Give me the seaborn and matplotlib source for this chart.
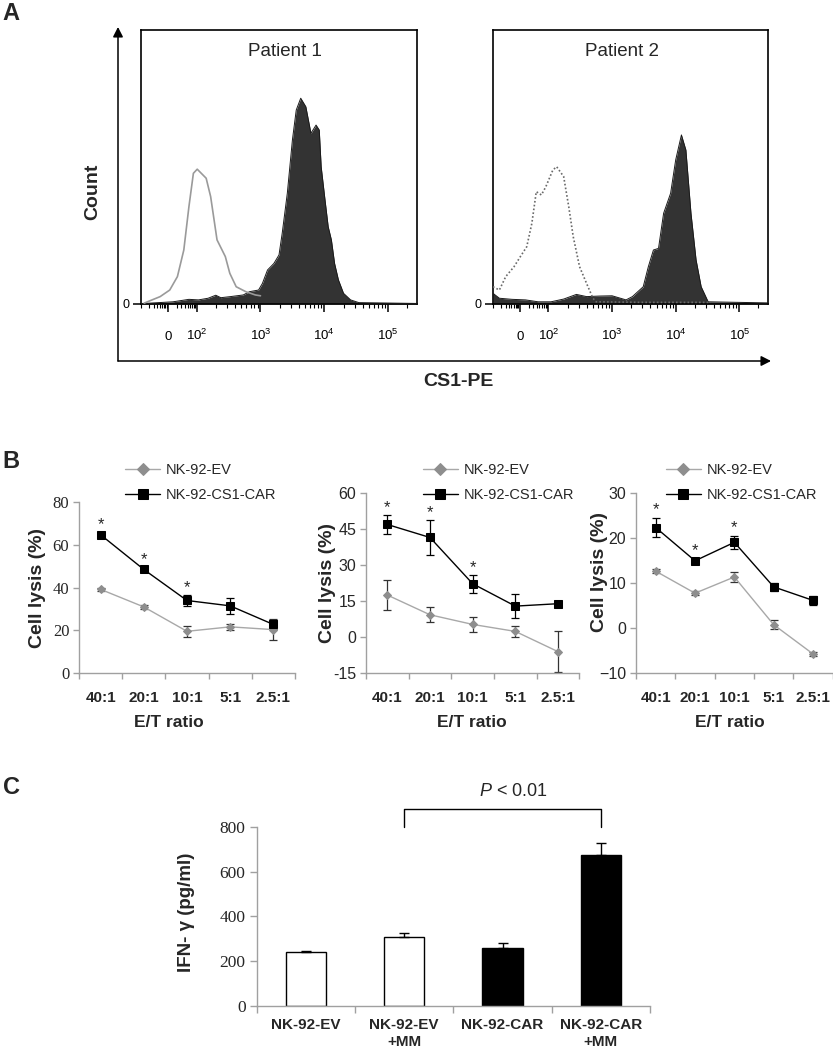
import numpy as np
import pandas as pd
import seaborn as sns
import matplotlib.pyplot as plt
import matplotlib.transforms as mtransforms
from matplotlib.patches import FancyArrowPatch

#==========================
# Panel A: CS1 flow histograms
# x = position on the flow axis in decades (1.55 is the "0" mark)
# y = count as % of the plot height
#==========================
p1_iso_x = [1.18, 1.23, 1.43, 1.58, 1.70, 1.80, 1.88, 1.95, 2.01, 2.15, 2.22, 2.32,
            2.45, 2.52, 2.62, 2.77, 2.92, 3.00]
p1_iso_y = [0.3, 0.8, 2.7, 5.1, 10.0, 19.7, 35.5, 47.7, 49.2, 45.9, 39.2, 23.4,
            17.3, 11.2, 6.3, 4.5, 3.3, 3.0]
p1_cs1_x = [1.13, 1.18, 1.63, 1.88, 2.03, 2.18, 2.30, 2.38, 2.53, 2.73, 2.83, 2.97,
            3.03, 3.11, 3.21, 3.29, 3.34, 3.42, 3.50, 3.56, 3.63, 3.71, 3.79, 3.87,
            3.92, 3.95, 4.01, 4.06, 4.11, 4.16, 4.22, 4.30, 4.41, 4.54, 5.45]
p1_cs1_y = [0.2, 0.2, 0.8, 1.7, 1.5, 2.1, 3.2, 2.3, 2.7, 3.3, 4.5, 5.1,
            7.5, 12.4, 14.8, 17.9, 25.8, 40.4, 59.9, 70.8, 75.1, 72.0, 62.3, 65.3,
            63.5, 50.1, 38.0, 28.2, 23.4, 14.8, 8.8, 3.9, 1.5, 0.5, 0.2]

p2_iso_x = [1.13, 1.23, 1.33, 1.46, 1.56, 1.66, 1.74, 1.81, 1.89, 1.96, 2.07, 2.13,
            2.24, 2.32, 2.39, 2.49, 2.60, 2.70, 2.75, 3.50, 4.55]
p2_iso_y = [6.3, 5.1, 10.0, 13.6, 17.3, 20.9, 29.4, 41.0, 39.8, 42.8, 48.9, 50.1,
            46.5, 35.5, 24.6, 13.6, 7.5, 2.1, 0.8, 0.6, 0.6]
p2_cs1_x = [1.13, 1.23, 1.43, 1.64, 1.84, 2.04, 2.24, 2.44, 2.60, 2.80, 3.00, 3.22,
            3.32, 3.49, 3.57, 3.65, 3.73, 3.81, 3.92, 4.00, 4.09, 4.16, 4.24, 4.32,
            4.40, 4.51, 5.45]
p2_cs1_y = [3.9, 2.1, 1.7, 1.5, 0.8, 0.8, 1.8, 3.5, 2.7, 2.9, 3.0, 1.5,
            2.7, 6.3, 13.6, 19.7, 20.3, 33.1, 40.4, 52.6, 61.7, 56.2, 33.1, 16.1,
            6.3, 0.8, 0.4]

flow_ticks = [1.55, 2, 3, 4, 5]
flow_labels = ["0", "$10^{2}$", "$10^{3}$", "$10^{4}$", "$10^{5}$"]

#==========================
# Panel B: cytotoxicity
#==========================
ratios = ["40:1", "20:1", "10:1", "5:1", "2.5:1"]

b1_ev = [39.2, 31.0, 19.6, 21.7, 20.4]
b1_ev_err = [0.8, 0.8, 2.5, 1.5, 5.0]
b1_car = [64.7, 48.5, 34.0, 31.5, 22.8]
b1_car_err = [1.0, 1.0, 2.4, 3.8, 2.3]
b1_stars = [0, 1, 2]

b2_ev = [17.5, 9.3, 5.3, 2.4, -6.0]
b2_ev_err = [6.3, 3.2, 3.0, 2.4, 8.5]
b2_car = [46.8, 41.4, 22.2, 12.9, 13.9]
b2_car_err = [3.8, 7.3, 3.7, 5.0, 1.0]
b2_stars = [0, 1, 2]

b3_ev = [12.7, 7.8, 11.4, 0.8, -5.7]
b3_ev_err = [0.4, 0.5, 1.1, 1.0, 0.5]
b3_car = [22.4, 15.0, 19.1, 9.2, 6.2]
b3_car_err = [2.2, 0.6, 1.5, 0.8, 1.0]
b3_stars = [0, 1, 2]

#==========================
# Panel C: IFN-gamma release
#==========================
groups = ["NK-92-EV", "NK-92-EV\n+MM", "NK-92-CAR", "NK-92-CAR\n+MM"]
ifn = [239, 309, 257, 674]
ifn_err = [6, 15, 22, 55]
bar_fill = ["white", "white", "black", "black"]
compare_pair = (1, 3)
p_text = "$\\mathit{P}$ < 0.01"

sns.set_theme(style="ticks")
plt.rcParams["font.family"] = ["Liberation Sans", "DejaVu Sans"]
plt.rcParams["mathtext.fontset"] = "custom"
plt.rcParams["mathtext.rm"] = "Liberation Sans"
plt.rcParams["mathtext.it"] = "Liberation Sans:italic"
plt.rcParams["mathtext.bf"] = "Liberation Sans:bold"

W, H = 833, 1050
fig = plt.figure(figsize=(W / 100, H / 100), dpi=100)
GRAY_AX = "#a0a0a0"


def px_axes(x0, y0, x1, y1):
    return fig.add_axes([x0 / W, 1 - y1 / H, (x1 - x0) / W, (y1 - y0) / H])


def fxy(x, y):
    return x / W, 1 - y / H


#==========================
# Panel A
#==========================
flow_minor = [1.13, 1.26, 1.33, 1.38, 1.42, 1.46, 1.49, 1.51, 1.53,
              1.69, 1.76, 1.82, 1.86, 1.90, 1.93, 1.96, 1.98]
flow_minor += [d + np.log10(k) for d in (2, 3, 4) for k in range(2, 10)] + [5.30]

flow_sets = [
    ((141, 30, 417, 304), p1_iso_x, p1_iso_y, p1_cs1_x, p1_cs1_y, "-", "#9a9a9a", "Patient 1", 0.52),
    ((493, 30, 768, 304), p2_iso_x, p2_iso_y, p2_cs1_x, p2_cs1_y, (0, (1, 1.3)), "#6a6a6a", "Patient 2", 0.47),
]
for box, iso_x, iso_y, cs_x, cs_y, ls, iso_col, title, tx in flow_sets:
    ax = px_axes(*box)
    ax.fill_between(cs_x, cs_y, 0, color="#333333", linewidth=0, zorder=2)
    sns.lineplot(x=cs_x, y=cs_y, ax=ax, color="#1a1a1a", linewidth=0.7,
                 estimator=None, sort=False, zorder=3)
    sns.lineplot(x=iso_x, y=iso_y, ax=ax, color=iso_col, linewidth=1.2,
                 linestyle=ls, estimator=None, sort=False, zorder=4)
    ax.set_xlim(1.13, 5.45)
    ax.set_ylim(0, 100)
    ax.set_xlabel("")
    ax.set_ylabel("")
    ax.set_xticks(flow_ticks, flow_labels)
    ax.set_xticks(flow_minor, minor=True)
    ax.tick_params(axis="x", which="major", direction="out", length=6, width=1.1,
                   pad=20, labelsize=9.5, colors="black")
    ax.tick_params(axis="x", which="minor", direction="out", length=3, width=0.8,
                   colors="black")
    for lab in ax.get_xticklabels():
        lab.set_verticalalignment("baseline")
    ax.set_yticks([0], ["0"])
    ax.tick_params(axis="y", direction="out", length=6, width=1.1, pad=2,
                   labelsize=9, colors="black")
    for sp in ax.spines.values():
        sp.set_color("black")
        sp.set_linewidth(1.2)
    ax.text(tx, 0.92, title, transform=ax.transAxes, ha="center", va="center",
            fontsize=13.5)

arrow_kw = dict(transform=fig.transFigure, arrowstyle="-|>,head_length=0.45,head_width=0.23",
                mutation_scale=13, lw=1.1, color="black", shrinkA=0, shrinkB=0)
fig.add_artist(FancyArrowPatch(fxy(118, 361), fxy(118, 27), **arrow_kw))
fig.add_artist(FancyArrowPatch(fxy(118, 361), fxy(771, 361), **arrow_kw))
fig.text(*fxy(93, 192), "Count", rotation=90, ha="center", va="center",
         fontsize=14, fontweight="bold")
fig.text(*fxy(458, 382), "CS1-PE", ha="center", va="center", fontsize=14,
         fontweight="bold")

#==========================
# Panel B
#==========================
lysis_sets = [
    ((79, 502, 295, 673.3), b1_ev, b1_ev_err, b1_car, b1_car_err, b1_stars,
     (0, 80), [0, 20, 40, 60, 80], "Liberation Serif", 12, 125, 46, 0.5, 169),
    ((366, 492.7, 579.3, 673.3), b2_ev, b2_ev_err, b2_car, b2_car_err, b2_stars,
     (-15, 60), [-15, 0, 15, 30, 45, 60], "Liberation Sans", 11.5, 422.7, 336, 0.5, 472),
    ((636, 493.3, 832.7, 673.3), b3_ev, b3_ev_err, b3_car, b3_car_err, b3_stars,
     (-10, 30), [-10, 0, 10, 20, 30], "Liberation Sans", 11.5, 665.7, 608, 0.56, 730),
]
for i, (box, ev, ev_err, car, car_err, stars, ylim, yticks, yfont, ysize,
        leg_x, ylab_x, ylab_y, xlab_x) in enumerate(lysis_sets):
    ax = px_axes(*box)
    pos = np.arange(len(ratios))
    ax.errorbar(pos, ev, yerr=ev_err, fmt="none", ecolor="#333333", elinewidth=0.9,
                capsize=2.9, capthick=0.9, zorder=2)
    ax.errorbar(pos, car, yerr=car_err, fmt="none", ecolor="black", elinewidth=0.9,
                capsize=2.9, capthick=0.9, zorder=2)
    sns.lineplot(x=pos, y=ev, ax=ax, color="#a8a8a8", linewidth=1.0, marker="D",
                 markersize=4.5, markerfacecolor="#8e8e8e", markeredgecolor="#8e8e8e",
                 label="NK-92-EV", zorder=3)
    sns.lineplot(x=pos, y=car, ax=ax, color="black", linewidth=1.0, marker="s",
                 markersize=5.5, markerfacecolor="black", markeredgecolor="black",
                 label="NK-92-CS1-CAR", zorder=3)
    for s in stars:
        ax.annotate("*", (pos[s], car[s] + car_err[s]), xytext=(0, 0),
                    textcoords="offset points", ha="center", va="bottom", fontsize=12)

    ax.set_xlim(-0.5, len(ratios) - 0.5)
    ax.set_ylim(*ylim)
    ax.set_xticks(pos, ratios)
    ax.set_xticks(np.arange(-0.5, len(ratios), 1), minor=True)
    ax.tick_params(axis="x", which="major", length=0, pad=12.5, labelsize=11)
    ax.tick_params(axis="x", which="minor", length=4, width=1, color=GRAY_AX,
                   direction="out")
    for lab in ax.get_xticklabels():
        lab.set_fontweight("bold")
    if i == 2:
        ylabels = [str(t).replace("-", "\u2212") for t in yticks]
    else:
        ylabels = [str(t) for t in yticks]
    ax.set_yticks(yticks, ylabels)
    ax.tick_params(axis="y", length=4, width=1, color=GRAY_AX, pad=3, labelsize=ysize)
    for lab in ax.get_yticklabels():
        lab.set_fontfamily(yfont)
    sns.despine(ax=ax)
    for side in ("left", "bottom"):
        ax.spines[side].set_color(GRAY_AX)
        ax.spines[side].set_linewidth(1.0)

    ax.set_ylabel("Cell lysis (%)", fontsize=14, fontweight="bold")
    ax.yaxis.set_label_coords(ylab_x / W, ylab_y,
                              transform=mtransforms.blended_transform_factory(fig.transFigure, ax.transAxes))
    ax.set_xlabel("E/T ratio", fontsize=12.5, fontweight="bold")
    ax.xaxis.set_label_coords(xlab_x / W, 1 - 715 / H, transform=fig.transFigure)

    ax.legend(loc="upper left", bbox_to_anchor=fxy(leg_x, 463), bbox_transform=fig.transFigure,
              frameon=False, fontsize=10.5, handlelength=2.4, handletextpad=0.4,
              labelspacing=0.75, borderpad=0, borderaxespad=0, markerscale=1.35)

#==========================
# Panel C
#==========================
ax = px_axes(256.7, 826.7, 650, 1006)
df_c = pd.DataFrame({"group": groups, "ifn": ifn})
sns.barplot(data=df_c, x="group", y="ifn", hue="group", palette=bar_fill,
            edgecolor="black", linewidth=1, width=0.41, saturation=1,
            errorbar=None, legend=False, ax=ax, zorder=2)
xpos = np.arange(len(groups))
ax.errorbar(xpos, ifn, yerr=[np.zeros(len(ifn)), ifn_err], fmt="none", ecolor="black",
            elinewidth=1, capsize=3.9, capthick=1, zorder=3)
ax.set_xlim(-0.5, len(groups) - 0.5)
ax.set_ylim(0, 800)
ax.set_yticks([0, 200, 400, 600, 800])
ax.set_xticks(xpos, groups)
ax.set_xticks(np.arange(-0.5, len(groups), 1), minor=True)
ax.tick_params(axis="x", which="major", length=0, pad=8.5, labelsize=11)
ax.tick_params(axis="x", which="minor", length=5, width=1, color=GRAY_AX, direction="out")
for lab in ax.get_xticklabels():
    lab.set_fontweight("bold")
    lab.set_linespacing(1.25)
ax.tick_params(axis="y", length=5, width=1, color=GRAY_AX, pad=3, labelsize=12.5)
for lab in ax.get_yticklabels():
    lab.set_fontfamily("Liberation Serif")
sns.despine(ax=ax)
for side in ("left", "bottom"):
    ax.spines[side].set_color(GRAY_AX)
    ax.spines[side].set_linewidth(1.0)
ax.set_xlabel("")
ax.set_ylabel("IFN- \u03b3 (pg/ml)", fontsize=13.5, fontweight="bold")
ax.yaxis.set_label_coords(195 / W, 0.52,
                          transform=mtransforms.blended_transform_factory(fig.transFigure, ax.transAxes))

# significance bracket between the two +MM groups
top = ifn[compare_pair[1]] + ifn_err[compare_pair[1]] + 152
leg = top - 82
ax.plot([compare_pair[0], compare_pair[0], compare_pair[1], compare_pair[1]],
        [leg, top, top, leg], color="black", lw=1, clip_on=False)
ax.annotate(p_text, (np.mean(compare_pair), top), xytext=(8, 6), textcoords="offset points",
            ha="center", va="bottom", fontsize=13, annotation_clip=False)

#==========================
# Panel letters
#==========================
for letter, (lx, ly) in zip("ABC", [(11, 13), (11, 461), (11, 787)]):
    fig.text(*fxy(lx, ly), letter, ha="center", va="center", fontsize=17, fontweight="bold")

fig.savefig("out.png", dpi=100)
